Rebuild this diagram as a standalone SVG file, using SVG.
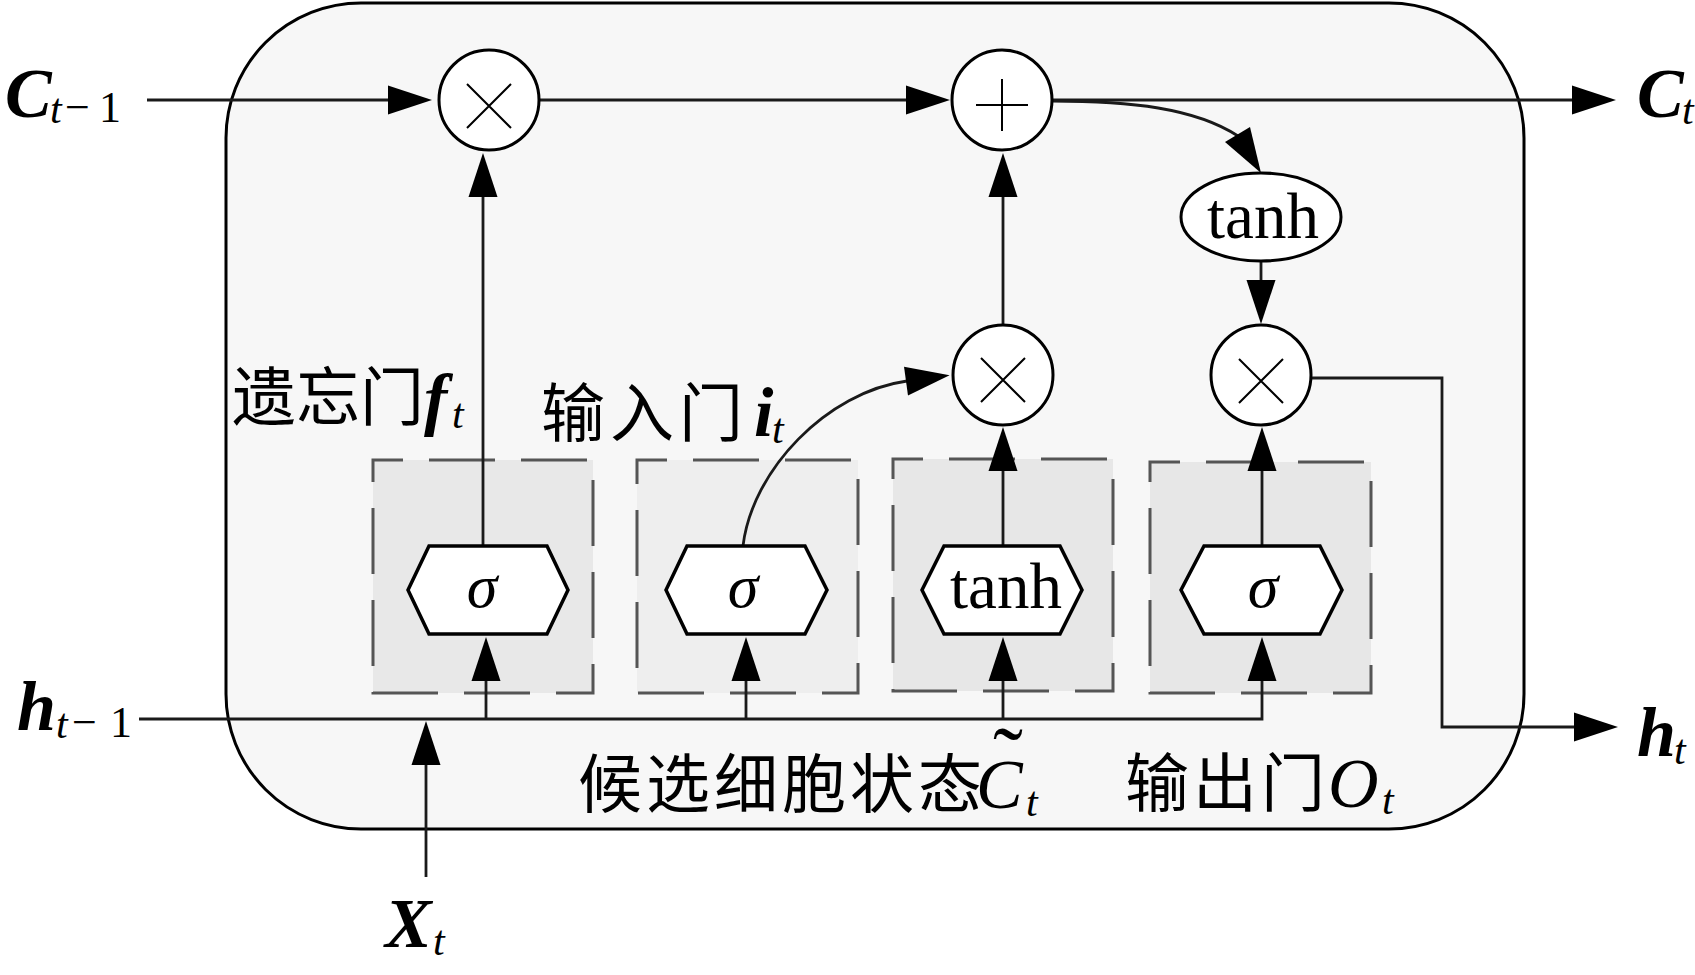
<svg xmlns="http://www.w3.org/2000/svg" width="1695" height="975" viewBox="0 0 1695 975">
<style>
  text { font-family: 'Liberation Serif', 'Noto Sans CJK SC', serif; fill: #000; }
  .cjk { font-family: 'Noto Sans CJK SC', 'Liberation Serif', sans-serif; font-size: 64px; }
  .mb { font-weight: bold; font-style: italic; font-size: 70px; }
  .mi { font-style: italic; font-size: 70px; }
  .sub { font-style: italic; font-size: 42px; }
  .subr { font-size: 44px; }
  .op { fill: #fff; stroke: #000; stroke-width: 3; }
  .sym { stroke: #000; stroke-width: 2; fill: none; }
  .gate { stroke: #555; stroke-width: 3; stroke-dasharray: 66 26; stroke-dashoffset: 36; }
  .hex { fill: #fff; stroke: #000; stroke-width: 3.5; }
  .conn { fill: none; stroke: #1a1a1a; stroke-width: 2.8; }
  .fn { font-size: 65px; text-anchor: middle; }
  .sig { font-style: italic; font-size: 62px; text-anchor: middle; }
</style>
<defs>
  <marker id="ah" markerUnits="userSpaceOnUse" markerWidth="46" markerHeight="30" refX="1" refY="14.5" orient="auto" overflow="visible">
    <path d="M0,0 L44,14.5 L0,29 z" fill="#000"/>
  </marker>
</defs>

<g id="cell">
  <rect x="226" y="3" width="1298" height="826" rx="135" ry="135" fill="#f7f7f7" stroke="#000" stroke-width="3"/>
</g>

<g id="gate-boxes">
  <rect id="forget-box" class="gate" x="373" y="460" width="220" height="233" fill="#e8e8e8"/>
  <rect id="input-box" class="gate" x="637" y="460" width="221" height="233" fill="#eeeeee"/>
  <rect id="cand-box" class="gate" x="893" y="459" width="220" height="232" fill="#e7e7e7"/>
  <rect id="output-box" class="gate" x="1150" y="462" width="221" height="231" fill="#e7e7e7"/>
</g>

<g id="connectors">
  <path class="conn" d="M147,100 H389" marker-end="url(#ah)"/>
  <path class="conn" d="M539,100 H907" marker-end="url(#ah)"/>
  <path class="conn" d="M1052,100 H1573" marker-end="url(#ah)"/>
  <path class="conn" d="M483,546 V196" marker-end="url(#ah)"/>
  <path class="conn" d="M139,719 H1262 V680" marker-end="url(#ah)"/>
  <path class="conn" d="M486,719 V680" marker-end="url(#ah)"/>
  <path class="conn" d="M746,719 V680" marker-end="url(#ah)"/>
  <path class="conn" d="M1003,719 V680" marker-end="url(#ah)"/>
  <path class="conn" d="M426,877 V764" marker-end="url(#ah)"/>
  <path class="conn" d="M743,546 C752,470 827,392 907,381" marker-end="url(#ah)"/>
  <path class="conn" d="M1003,546 V470" marker-end="url(#ah)"/>
  <path class="conn" d="M1262,546 V470" marker-end="url(#ah)"/>
  <path class="conn" d="M1003,325 V196" marker-end="url(#ah)"/>
  <path class="conn" d="M1052,101 C1130,101 1195,108 1238,136"/>
  <polygon points="1261,173 1225,142 1250,127" fill="#000"/>
  <path class="conn" d="M1261,261 V281" marker-end="url(#ah)"/>
  <path class="conn" d="M1311,378 H1442 V727 H1575" marker-end="url(#ah)"/>
</g>

<g id="mul-forget">
  <circle class="op" cx="489" cy="100" r="50"/>
  <path class="sym" d="M467,84 L511,128 M511,84 L467,128"/>
</g>
<g id="add-cell">
  <circle class="op" cx="1002" cy="100" r="50"/>
  <path class="sym" d="M976,105 H1028 M1002,79 V131"/>
</g>
<g id="mul-input">
  <circle class="op" cx="1003" cy="375" r="50"/>
  <path class="sym" d="M981,358 L1025,402 M1025,358 L981,402"/>
</g>
<g id="mul-output">
  <circle class="op" cx="1261" cy="375" r="50"/>
  <path class="sym" d="M1239,359 L1283,403 M1283,359 L1239,403"/>
</g>
<g id="tanh-cell">
  <ellipse class="op" cx="1261" cy="217" rx="80" ry="44"/>
  <text class="fn" x="1263" y="238">tanh</text>
</g>

<g id="forget-gate">
  <polygon class="hex" points="429,546 547,546 568,590 547,634 429,634 408,590"/>
  <text class="sig" x="482" y="607">σ</text>
</g>
<g id="input-gate">
  <polygon class="hex" points="687,546 805,546 827,590 805,634 687,634 666,590"/>
  <text class="sig" x="743" y="607">σ</text>
</g>
<g id="candidate-gate">
  <polygon class="hex" points="944,546 1060,546 1082,590 1060,634 944,634 922,590"/>
  <text class="fn" x="1006" y="608">tanh</text>
</g>
<g id="output-gate">
  <polygon class="hex" points="1204,546 1320,546 1342,590 1320,634 1204,634 1181,590"/>
  <text class="sig" x="1263" y="607">σ</text>
</g>

<g id="labels">
  <g id="lbl-c-prev">
    <text class="mb" x="5" y="117">C</text>
    <text class="sub" x="50" y="123">t</text>
    <text class="subr" x="65" y="122" font-size="50">−</text>
    <text class="subr" x="99" y="122">1</text>
  </g>
  <g id="lbl-c-t">
    <text class="mb" x="1637" y="117">C</text>
    <text class="sub" x="1682" y="124">t</text>
  </g>
  <g id="lbl-h-prev">
    <text class="mb" x="17" y="730">h</text>
    <text class="sub" x="56" y="738">t</text>
    <text class="subr" x="72" y="737" font-size="50">−</text>
    <text class="subr" x="110" y="737">1</text>
  </g>
  <g id="lbl-h-t">
    <text class="mb" x="1637" y="756">h</text>
    <text class="sub" x="1674" y="764">t</text>
  </g>
  <g id="lbl-x-t">
    <text class="mb" x="385" y="947">X</text>
    <text class="sub" x="433" y="955">t</text>
  </g>
  <g id="lbl-forget">
    <text class="cjk" x="232" y="420">遗忘门</text>
    <text class="mb" x="424" y="422" font-size="66">f</text>
    <text class="sub" x="452" y="428">t</text>
  </g>
  <g id="lbl-input">
    <text class="cjk" x="541" y="436" letter-spacing="5">输入门</text>
    <text class="mb" x="754" y="436" font-size="66">i</text>
    <text class="sub" x="772" y="443">t</text>
  </g>
  <g id="lbl-candidate">
    <text class="cjk" x="578" y="807" font-size="66" letter-spacing="4">候选细胞状态</text>
    <text class="mi" x="976" y="808">C</text>
    <text x="993" y="790" font-size="90">˜</text>
    <text class="sub" x="1026" y="816">t</text>
  </g>
  <g id="lbl-output">
    <text class="cjk" x="1125" y="806" letter-spacing="4">输出门</text>
    <text class="mi" x="1328" y="807">O</text>
    <text class="sub" x="1382" y="814">t</text>
  </g>
</g>
</svg>
